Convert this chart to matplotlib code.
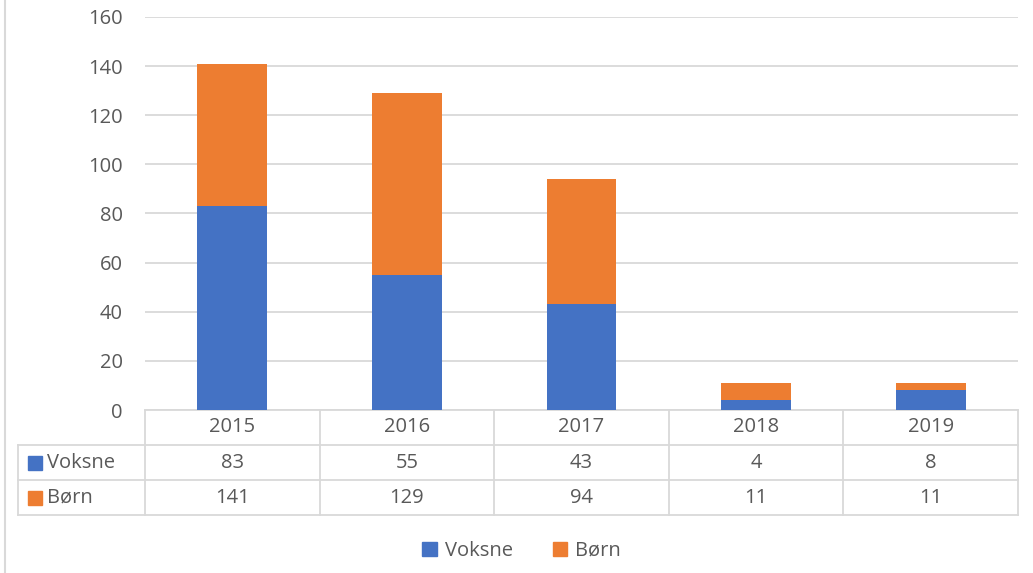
import matplotlib.pyplot as plt
import matplotlib.transforms as mtransforms
from matplotlib.patches import Patch, Rectangle

# data
years = ["2015", "2016", "2017", "2018", "2019"]
voksne = [83, 55, 43, 4, 8]
born = [141, 129, 94, 11, 11]

blue = "#4472C4"
orange = "#ED7D31"
txt = "#595959"
grid = "#D9D9D9"
fs = 14.5

plt.rcParams['font.family'] = ['Open Sans', 'DejaVu Sans']

W, H = 1033, 573
fig = plt.figure(figsize=(W / 100, H / 100), dpi=100)

# plot area in pixels
left, right, top, bottom = 145, 1018, 17, 410
ax = fig.add_axes([left / W, 1 - bottom / H, (right - left) / W, (bottom - top) / H])

x = list(range(len(years)))
# overlapping bars: Børn behind, Voksne in front
ax.bar(x, born, width=0.4, color=orange, zorder=2)
ax.bar(x, voksne, width=0.4, color=blue, zorder=3)

ax.set_xlim(-0.5, len(years) - 0.5)
ax.set_ylim(0, 160)
ax.set_yticks(range(0, 161, 20))
ax.set_xticks([])
ax.yaxis.grid(True, color=grid, linewidth=1.3, zorder=0)
ax.tick_params(axis='y', length=0, pad=16, labelsize=fs, labelcolor=txt)
for s in ax.spines.values():
    s.set_visible(False)

# data table under the plot
trans = mtransforms.blended_transform_factory(ax.transData, ax.transAxes)
row_h = 35 / (bottom - top)
lab_left = -0.5 - (left - 18) / ((right - left) / len(years))

line_kw = dict(color=grid, linewidth=1.3, clip_on=False, transform=trans)
ax.plot([-0.5, len(years) - 0.5], [0, 0], **line_kw)
for r in (1, 2, 3):
    ax.plot([lab_left, len(years) - 0.5], [-r * row_h, -r * row_h], **line_kw)
for i in range(len(years) + 1):
    ax.plot([i - 0.5, i - 0.5], [0, -3 * row_h], **line_kw)
ax.plot([lab_left, lab_left], [-row_h, -3 * row_h], **line_kw)

for i, yr in enumerate(years):
    ax.text(i, -0.5 * row_h, yr, transform=trans, ha='center', va='center', fontsize=fs, color=txt)
    ax.text(i, -1.5 * row_h, str(voksne[i]), transform=trans, ha='center', va='center', fontsize=fs, color=txt)
    ax.text(i, -2.5 * row_h, str(born[i]), transform=trans, ha='center', va='center', fontsize=fs, color=txt)

key_w = 14 / ((right - left) / len(years))
key_h = 14 / (bottom - top)
for r, (name, col) in enumerate([("Voksne", blue), ("Børn", orange)]):
    yc = -(r + 1.5) * row_h
    ax.add_patch(Rectangle((lab_left + 10 / 175, yc - key_h / 2), key_w, key_h,
                           transform=trans, color=col, clip_on=False))
    ax.text(lab_left + 29 / 175, yc, name, transform=trans, ha='left', va='center',
            fontsize=fs, color=txt)

# chart border on the left
fig.add_artist(plt.Line2D([5 / W, 5 / W], [0, 1], color=grid, linewidth=1.5))

handles = [Patch(color=blue, label="Voksne"), Patch(color=orange, label="Børn")]
leg = fig.legend(handles=handles, loc='center', bbox_to_anchor=(0.505, 1 - 551 / H), ncol=2,
                 frameon=False, fontsize=fs, handlelength=0.7, handleheight=0.7,
                 handletextpad=0.4, columnspacing=2.0)
for t in leg.get_texts():
    t.set_color(txt)

fig.savefig("out.png", dpi=100)
